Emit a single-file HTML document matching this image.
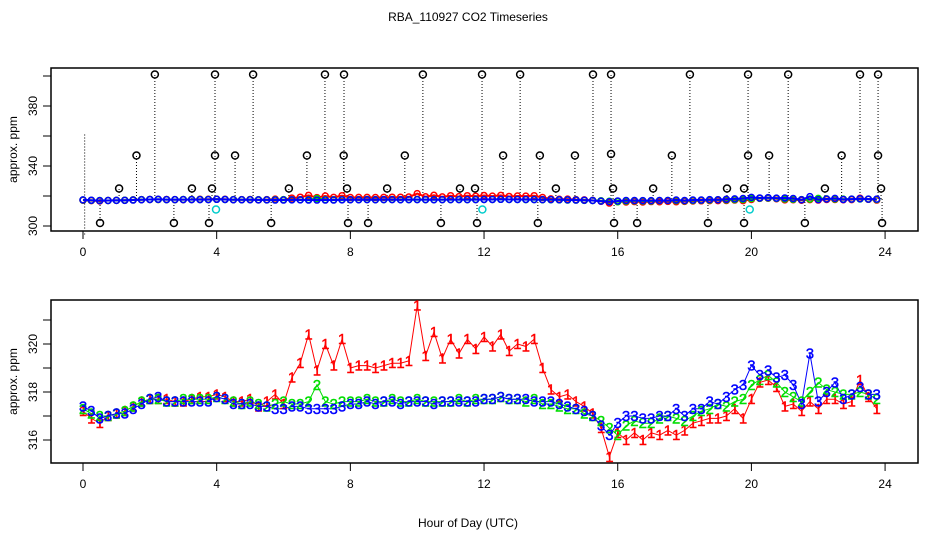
<!DOCTYPE html>
<html><head><meta charset="utf-8"><style>
html,body{margin:0;padding:0;background:#fff}
svg{display:block;font-family:"Liberation Sans",sans-serif}
</style></head><body>
<svg id="chart" width="936" height="540" viewBox="0 0 936 540">
<text x="468" y="21" font-size="12" text-anchor="middle">RBA_110927  CO2 Timeseries</text>
<text x="468" y="527" font-size="12" text-anchor="middle">Hour of Day (UTC)</text>
<g id="top"></g>
<g id="bot"></g>
</svg>
<script>
const hours = [];
for (let i = 0; i < 96; i++) hours.push(i * 0.25);
const series1 = [317.2,316.9,316.7,317.0,317.1,317.2,317.4,317.6,317.7,317.7,317.7,317.6,317.6,317.7,317.8,317.8,
317.9,317.8,317.6,317.6,317.7,317.4,317.6,317.9,317.5,318.6,319.2,320.4,318.9,320.0,319.1,320.2,
319.0,319.1,319.1,319.0,319.1,319.2,319.2,319.3,321.6,319.5,320.5,319.4,320.2,319.6,320.2,319.8,
320.3,319.9,320.4,319.7,320.0,319.9,320.2,319.0,318.1,317.8,317.9,317.6,317.4,317.1,316.5,315.3,
316.3,316.0,316.3,316.0,316.3,316.2,316.4,316.2,316.4,316.7,316.8,316.9,316.9,317.0,317.3,316.9,
317.7,318.4,318.5,318.2,317.4,317.5,317.2,317.6,317.3,317.7,317.7,317.5,317.6,318.5,317.8,317.3];
const series2 = [317.3,317.1,317.0,317.0,317.1,317.2,317.4,317.6,317.7,317.7,317.6,317.6,317.7,317.7,317.7,317.7,
317.8,317.7,317.6,317.5,317.6,317.5,317.4,317.5,317.6,317.5,317.5,317.6,318.3,317.6,317.5,317.6,
317.6,317.6,317.7,317.6,317.6,317.7,317.6,317.6,317.7,317.6,317.6,317.6,317.6,317.7,317.6,317.7,
317.7,317.7,317.8,317.7,317.7,317.6,317.7,317.5,317.5,317.4,317.3,317.3,317.1,317.0,316.8,316.5,
316.2,316.6,316.8,316.7,316.7,316.9,317.0,316.9,316.8,317.0,317.2,317.3,317.5,317.4,317.6,317.7,
318.3,318.5,318.7,318.4,318.0,317.8,317.6,318.0,318.4,318.1,318.0,317.9,317.9,318.0,317.9,317.7];
const series3 = [317.4,317.2,316.9,317.0,317.1,317.1,317.3,317.5,317.7,317.8,317.6,317.6,317.6,317.6,317.6,317.6,
317.8,317.7,317.5,317.5,317.5,317.4,317.4,317.3,317.3,317.4,317.4,317.3,317.3,317.3,317.3,317.4,
317.5,317.5,317.6,317.5,317.6,317.6,317.5,317.6,317.6,317.6,317.5,317.6,317.6,317.6,317.6,317.6,
317.7,317.7,317.8,317.7,317.7,317.7,317.6,317.6,317.6,317.5,317.4,317.3,317.2,317.0,316.6,316.2,
316.7,317.0,317.0,316.9,316.9,317.0,317.0,317.3,317.0,317.3,317.3,317.6,317.5,317.8,318.1,318.3,
319.1,318.7,318.9,318.6,318.7,318.3,317.5,319.6,317.6,318.0,318.4,317.7,317.9,318.2,317.9,317.9];
const outlierHours = [2.15,3.95,5.09,7.24,7.81,10.17,11.94,13.08,15.26,15.8,18.16,19.9,21.1,23.25,23.79,
1.6,3.95,4.55,6.7,7.8,9.63,12.57,13.67,14.72,15.8,17.62,19.9,20.53,22.7,23.79,
1.08,3.86,3.26,6.16,7.9,9.1,11.28,11.73,14.15,15.86,17.06,19.27,19.78,22.2,23.88,
0.51,2.72,3.77,5.63,7.93,8.53,10.71,11.79,13.61,15.89,16.58,18.7,19.78,21.6,23.91];
const outlierValues = [401,401,401,401,401,401,401,401,401,401,401,401,401,401,401,
347,347,347,347,347,347,347,347,347,348,347,347,347,347,347,
325,325,325,325,325,325,325,325,325,325,325,325,325,325,325,
302,302,302,302,302,302,302,302,302,302,302,302,302,302,302];
const cyanHours = [3.98,11.95,19.95];
const cyanValues = [311,311,311];
const topTicks = [300,320,340,360,380,400];
const topTickLabels = ["300","","340","","380",""];
const botTicks = [315,316,317,318,319,320,321];
const botTickLabels = ["","316","","318","","320",""];
const xTicks = [0,4,8,12,16,20,24];

const NS = "http://www.w3.org/2000/svg";
function mk(tag, attrs, parent){const e=document.createElementNS(NS,tag);for(const k in attrs)e.setAttribute(k,attrs[k]);parent.appendChild(e);return e;}
const xS = h => 83 + h * 33.42;
const yTop = v => 226 - (v - 300) * 1.5;
const yBot = v => 392 - (v - 318) * 24;
const colors = ["#ff0000","#00dd00","#0000ff"];
const allSeries = [series1, series2, series3];

function axes(g, top, bottom, ticks, labels, yf, prefix){
  const box = mk('rect',{x:51,y:top,width:867,height:bottom-top,fill:'none',stroke:'#000','stroke-width':1.5},g);
  
  
  xTicks.forEach(t=>{
    const l = mk('line',{x1:xS(t),x2:xS(t),y1:bottom,y2:bottom+8,stroke:'#000'},g);
    
    
    const tx = mk('text',{x:xS(t),y:bottom+25,'font-size':12,'text-anchor':'middle'},g);
    tx.textContent = String(t);
    
    
  });
  ticks.forEach((t,i)=>{
    const y = yf(t);
    if (y < top || y > bottom) return;
    const l = mk('line',{x1:43,x2:51,y1:y,y2:y,stroke:'#000'},g);
    
    
    if (labels[i]) {
      const tx = mk('text',{x:0,y:0,'font-size':12,'text-anchor':'middle',transform:`translate(37,${y}) rotate(-90)`},g);
      tx.textContent = labels[i];
      
      
    }
  });
  const yt = mk('text',{x:0,y:0,'font-size':12,'text-anchor':'middle',transform:`translate(17,${(top+bottom)/2}) rotate(-90)`},g);
  yt.textContent = 'approx. ppm';
  
  
}

const gT = document.getElementById('top');
axes(gT, 68, 231, topTicks, topTickLabels, yTop, 'top');
outlierHours.forEach((h,i)=>{
  const l = mk('line',{x1:xS(h),x2:xS(h),y1:yTop(318),y2:yTop(outlierValues[i]),stroke:'#000','stroke-dasharray':'1,2'},gT);
  
  
});
const extra = mk('line',{x1:xS(0.05),x2:xS(0.05),y1:yTop(361),y2:yTop(294),stroke:'#000','stroke-dasharray':'1,2'},gT);


allSeries.forEach((s,k)=>{
  const pl = mk('polyline',{points:s.map((v,i)=>xS(hours[i])+','+yTop(v)).join(' '),fill:'none',stroke:colors[k],'stroke-width':2},gT);
  
  
  s.forEach((v,i)=>{
    const c = mk('circle',{cx:xS(hours[i]),cy:yTop(v),r:3,fill:'none',stroke:colors[k],'stroke-width':1.5},gT);
    
    
  });
});
outlierHours.forEach((h,i)=>{
  const c = mk('circle',{cx:xS(h),cy:yTop(outlierValues[i]),r:3.5,fill:'none',stroke:'#000','stroke-width':1.5},gT);
  
  
});
cyanHours.forEach((h,i)=>{
  const c = mk('circle',{cx:xS(h),cy:yTop(cyanValues[i]),r:3.5,fill:'none',stroke:'#00cccc','stroke-width':1.5},gT);
  
  
});

const gB = document.getElementById('bot');
axes(gB, 300, 463, botTicks, botTickLabels, yBot, 'bottom');
allSeries.forEach((s,k)=>{
  const pl = mk('polyline',{points:s.map((v,i)=>xS(hours[i])+','+yBot(v)).join(' '),fill:'none',stroke:colors[k],'stroke-width':1},gB);
  
  
});
allSeries.forEach((s,k)=>{
  s.forEach((v,i)=>{
    const t = mk('text',{x:xS(hours[i]),y:yBot(v)+5,'font-size':15,'text-anchor':'middle',fill:colors[k],stroke:colors[k],'stroke-width':0.4},gB);
    t.textContent = String(k+1);
    
    
  });
});
</script>
</body></html>
